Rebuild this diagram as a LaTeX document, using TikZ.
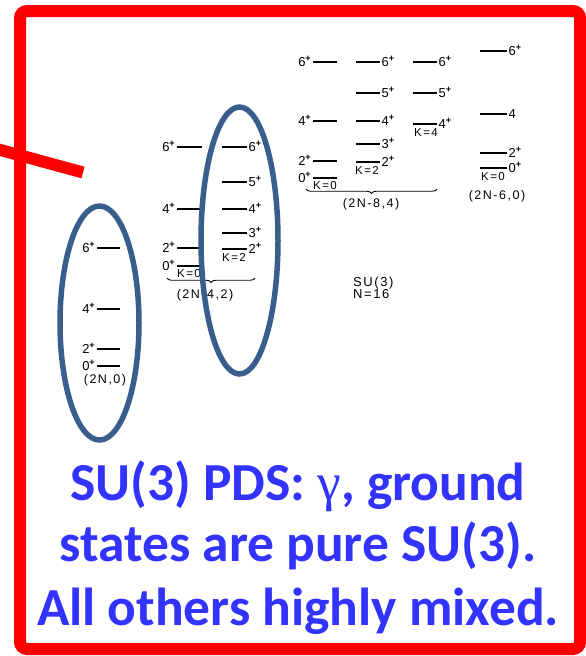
\documentclass[tikz,border=0pt]{standalone}
\usepackage{fontspec}
\setmainfont{Liberation Sans}
\newfontfamily\capfont{Carlito}
\newfontfamily\grkfont{Liberation Serif}
\newfontfamily\lblfont{Liberation Sans}[LetterSpace=12]
\usetikzlibrary{decorations.pathreplacing}
\definecolor{framered}{RGB}{255,0,0}
\definecolor{ovalblue}{RGB}{58,94,140}
\definecolor{capblue}{RGB}{51,51,255}

\tikzset{
  lvl/.style={line width=1.2pt, black},
  lbl/.style={font=\lblfont\fontsize{13}{13}\selectfont, inner sep=0pt},
  klbl/.style={font=\lblfont\fontsize{11.5}{11.5}\selectfont, inner sep=0pt, anchor=north},
  grp/.style={font=\lblfont\fontsize{12.5}{12.5}\selectfont, inner sep=0pt},
  oval/.style={draw=ovalblue, line width=5.5pt},
  bracestyle/.style={decorate, decoration={brace, amplitude=4.5pt, mirror}, line width=0.9pt},
  redline/.style={draw=framered, line width=12pt},
  caption/.style={font=\capfont\bfseries\fontsize{53.5}{62}\selectfont, text=capblue, inner sep=0pt, anchor=base}
}

% level line with its spin label to the left / to the right
\newcommand\levL[5]{\draw[lvl] (#2,#4) -- (#3,#4);
  \node[lbl, anchor=base east] (#1) at (#2-1.5,#4+4) {#5};}
\newcommand\levR[5]{\draw[lvl] (#2,#4) -- (#3,#4);
  \node[lbl, anchor=base west] (#1) at (#3+1.5,#4+4) {#5};}
\newcommand\spn[1]{#1\textsuperscript{\bfseries +}}

\begin{document}
\begin{tikzpicture}[x=1pt, y=-1pt]
\useasboundingbox (0,0) rectangle (586,656);
\fill[white] (0,0) rectangle (586,656);

% (2N,0) ground band
\levL{a6}{97}{120}{248}{\spn{6}}
\levL{a4}{97}{120}{309}{\spn{4}}
\levL{a2}{97}{120}{349}{\spn{2}}
\levL{a0}{97}{120}{366}{\spn{0}}
\node[grp] (a) at (105,380) {(2N,0)};

% (2N-4,2): K=0 and K=2 bands
\levL{b6}{177}{202}{147}{\spn{6}}
\levL{b4}{177}{202}{209}{\spn{4}}
\levL{b2}{177}{202}{248}{\spn{2}}
\levL{b0}{177}{202}{266}{\spn{0}}
\node[klbl] (bk0) at (189,269.5) {K=0};
\levR{c6}{222}{247}{147}{\spn{6}}
\levR{c5}{222}{247}{182}{\spn{5}}
\levR{c4}{222}{247}{209}{\spn{4}}
\levR{c3}{222}{247}{233}{\spn{3}}
\levR{c2}{222}{247}{249}{\spn{2}}
\node[klbl] (ck2) at (234,253) {K=2};
\draw[bracestyle] (167,278) -- (255,278);
\node[grp] (b) at (205,295) {(2N-4,2)};

% (2N-8,4): K=0, K=2 and K=4 bands
\levL{d6}{313}{337}{62}{\spn{6}}
\levL{d4}{313}{337}{121}{\spn{4}}
\levL{d2}{313}{337}{161}{\spn{2}}
\levL{d0}{313}{337}{178}{\spn{0}}
\node[klbl] (dk0) at (325,181) {K=0};
\levR{e6}{356}{380}{62}{\spn{6}}
\levR{e5}{356}{380}{93}{\spn{5}}
\levR{e4}{356}{380}{121}{\spn{4}}
\levR{e3}{356}{380}{144}{\spn{3}}
\levR{e2}{356}{380}{162}{\spn{2}}
\node[klbl] (ek2) at (367,166.5) {K=2};
\levR{f6}{413}{437}{62}{\spn{6}}
\levR{f5}{413}{437}{93}{\spn{5}}
\levR{f4}{413}{437}{124}{\spn{4}}
\node[klbl] (fk4) at (426,128) {K=4};
\draw[bracestyle] (306,189) -- (437,189);
\node[grp] (d) at (371,204) {(2N-8,4)};

% (2N-6,0) band
\levR{g6}{480}{507}{51}{\spn{6}}
\levR{g4}{480}{507}{114}{4}
\levR{g2}{480}{507}{153}{\spn{2}}
\levR{g0}{480}{507}{168}{\spn{0}}
\node[klbl] (gk0) at (493,172) {K=0};
\node[grp] (g) at (497,196) {(2N-6,0)};

% symmetry and boson number
\node[lbl, anchor=base west] (su) at (353,286) {SU(3)};
\node[lbl, anchor=base west] (nn) at (353,298) {N=16};

% ovals round the pure bands
\draw[oval] (99.5,323) ellipse [x radius=39.5, y radius=117];
\draw[oval] (239.5,240.5) ellipse [x radius=38.5, y radius=133.5];

% red frame and slash
\draw[redline, rounded corners=7pt] (20,11) rectangle (580,649);
\draw[redline] (-5,148.5) -- (83,172.5);

% caption
\node[caption] (t1) at (298,500) {SU(3) PDS: {\grkfont\mdseries γ}, ground};
\node[caption] (t2) at (298,561) {states are pure SU(3).};
\node[caption] (t3) at (298,625) {All others highly mixed.};
\end{tikzpicture}
\end{document}
